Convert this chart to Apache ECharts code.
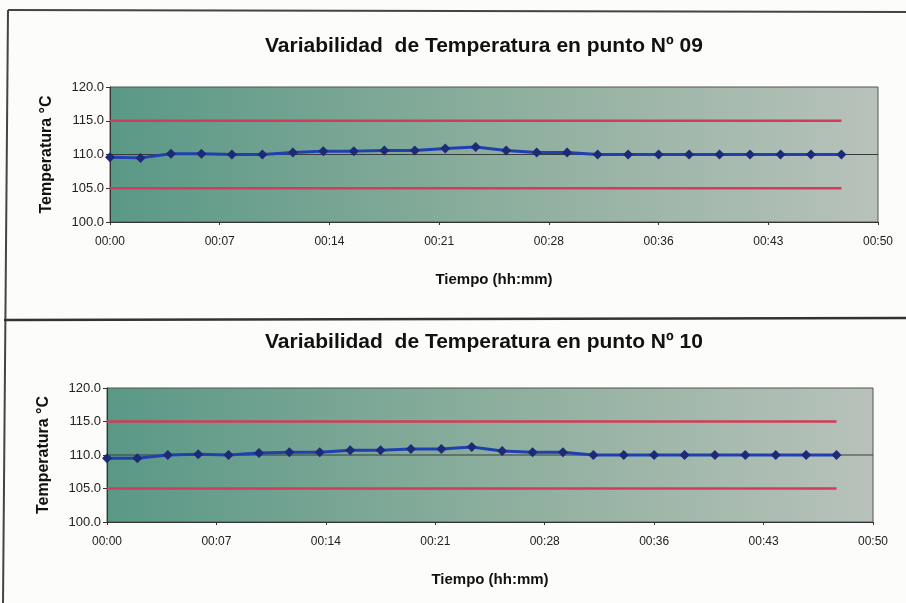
<!DOCTYPE html>
<html>
<head>
<meta charset="utf-8">
<script src="https://cdn.jsdelivr.net/npm/echarts@6/dist/echarts.min.js"></script>
<style>
html,body{margin:0;padding:0;background:#fcfcfa;}
#c{width:906px;height:603px;}
</style>
</head>
<body>
<div id="c"></div>
<script>
// Time in minutes from start
const times = [0,2,4,6,8,10,12,14,16,18,20,22,24,26,28,30,32,34,36,38,40,42,44,46,48];
const temp09 = [109.6,109.5,110.1,110.1,110.0,110.0,110.3,110.5,110.5,110.6,110.6,110.9,111.1,110.6,110.3,110.3,110.0,110.0,110.0,110.0,110.0,110.0,110.0,110.0,110.0];
const temp10 = [109.5,109.5,110.0,110.1,110.0,110.3,110.4,110.4,110.7,110.7,110.9,110.9,111.2,110.6,110.4,110.4,110.0,110.0,110.0,110.0,110.0,110.0,110.0,110.0,110.0];
const upperLimit = 115.0;
const lowerLimit = 105.0;
const setPoint = 110.0;
const xTickLabels = ['00:00','00:07','00:14','00:21','00:28','00:36','00:43','00:50'];
const xStep = 7.2;   // minutes between tick labels
const xMax = 50.4;
const titles = ['Variabilidad  de Temperatura en punto Nº 09', 'Variabilidad  de Temperatura en punto Nº 10'];

const font = 'Liberation Sans, Arial, sans-serif';
const chart = echarts.init(document.getElementById('c'), null, {renderer:'canvas'});

function pairs(vals){ return times.map((t,i)=>[t, vals[i]]); }
function constLine(v){ return times.map(t=>[t, v]); }

const bg = {type:'linear', x:0, y:0, x2:1, y2:0, colorStops:[
  {offset:0, color:'#5a9886'},
  {offset:0.5, color:'#8cae9d'},
  {offset:1, color:'#b8c2ba'}
]};

const grids = [
  {left:110, right:28, top:87, height:135},
  {left:107, right:33, top:388, height:134}
];

function xAxis(i){
  return {
    gridIndex:i, type:'value', min:0, max:xMax, interval:xStep,
    axisLine:{show:true, lineStyle:{color:'#333', width:1}},
    axisTick:{show:true, length:3, lineStyle:{color:'#333'}},
    splitLine:{show:false},
    axisLabel:{color:'#222', fontFamily:font, fontSize:12, margin:14,
      formatter:(v)=>xTickLabels[Math.round(v/xStep)]},
    name:'Tiempo (hh:mm)', nameLocation:'middle', nameGap:50,
    nameTextStyle:{color:'#111', fontFamily:font, fontSize:15, fontWeight:'bold'}
  };
}
function yAxis(i){
  return {
    gridIndex:i, type:'value', min:100, max:120, interval:5,
    axisLine:{show:true, lineStyle:{color:'#333', width:1}},
    axisTick:{show:true, length:4, lineStyle:{color:'#333'}},
    splitLine:{show:false},
    axisLabel:{color:'#222', fontFamily:font, fontSize:13, margin:6, formatter:(v)=>v.toFixed(1)},
    name:'Temperatura °C', nameLocation:'middle', nameGap:55, nameRotate:90,
    nameTextStyle:{color:'#111', fontFamily:font, fontSize:16, fontWeight:'bold'}
  };
}

function seriesFor(i, vals){
  return [
    {type:'line', xAxisIndex:i, yAxisIndex:i, data:[[0,setPoint],[xMax,setPoint]], symbol:'none',
      lineStyle:{color:'#3a3a3a', width:1}, silent:true, z:2},
    {type:'line', xAxisIndex:i, yAxisIndex:i, data:constLine(upperLimit), symbol:'none',
      lineStyle:{color:'#d23c5a', width:2.5}, z:3},
    {type:'line', xAxisIndex:i, yAxisIndex:i, data:constLine(lowerLimit), symbol:'none',
      lineStyle:{color:'#d23c5a', width:2.5}, z:3},
    {type:'line', xAxisIndex:i, yAxisIndex:i, data:pairs(vals), symbol:'diamond', symbolSize:10,
      itemStyle:{color:'#1c2a78'}, lineStyle:{color:'#2140b0', width:3}, z:5}
  ];
}

chart.setOption({
  backgroundColor:'#fcfcfa',
  animation:false,
  title:[
    {text:titles[0], left:260, top:31, textStyle:{fontFamily:font, fontSize:21, fontWeight:'bold', color:'#111'}},
    {text:titles[1], left:260, top:327, textStyle:{fontFamily:font, fontSize:21, fontWeight:'bold', color:'#111'}}
  ],
  grid:grids.map(g=>Object.assign({show:true, backgroundColor:bg, borderColor:'#555', borderWidth:1}, g)),
  xAxis:[xAxis(0), xAxis(1)],
  yAxis:[yAxis(0), yAxis(1)],
  series:[].concat(seriesFor(0, temp09), seriesFor(1, temp10)),
  graphic:[
    {type:'line', shape:{x1:8, y1:10, x2:906, y2:12}, style:{stroke:'#444', lineWidth:2}},
    {type:'line', shape:{x1:8, y1:10, x2:3, y2:603}, style:{stroke:'#444', lineWidth:2}},
    {type:'line', shape:{x1:4, y1:320, x2:906, y2:318}, style:{stroke:'#333', lineWidth:2.5}}
  ]
});
</script>
</body>
</html>
